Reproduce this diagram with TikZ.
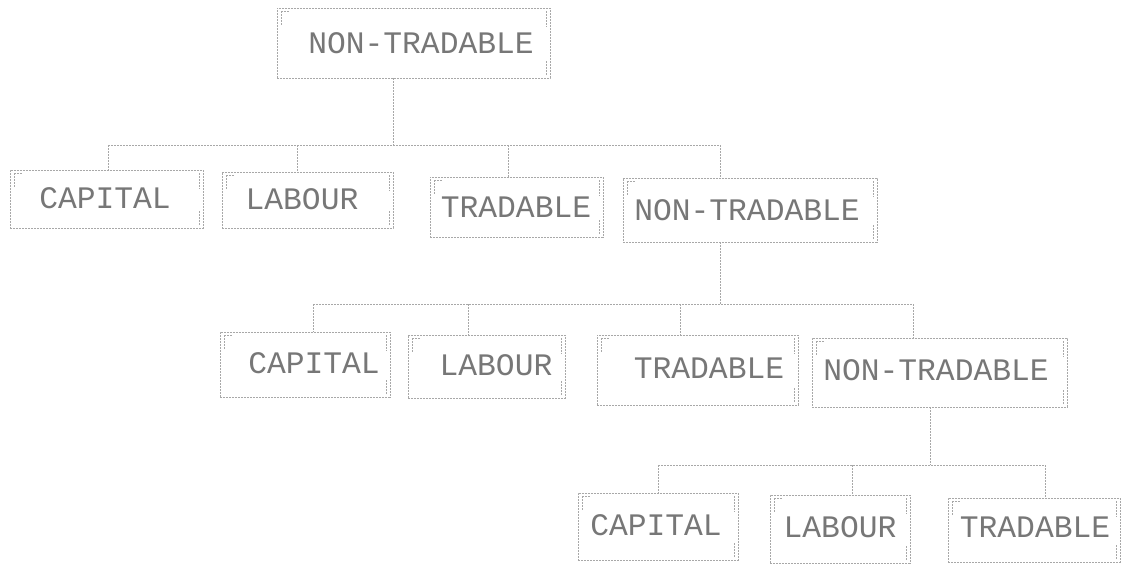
\documentclass[tikz,border=0pt]{standalone}
\usepackage{fontspec}
\setmonofont{Liberation Mono}
\definecolor{inkt}{HTML}{777777}
\definecolor{inkl}{HTML}{A8A8A8}
\begin{document}
\begin{tikzpicture}[x=1pt,y=-1pt,
  tbox/.style={draw=inkl, line width=0.8pt, dash pattern=on 2.2pt off 0.8pt, inner sep=0pt, outer sep=0pt},
  lbl/.style={text=inkt, inner sep=0pt, font=\ttfamily\fontsize{31.3}{36}\selectfont},
  conn/.style={draw=inkl, line width=0.8pt, dash pattern=on 2.2pt off 0.8pt},
  cornermk/.style={draw=inkl, line width=0.7pt, dash pattern=on 2pt off 1pt}]
\useasboundingbox (0,0) rectangle (1132,570);
\fill[white] (0,0) rectangle (1132,570);

% boxes
\node[tbox, minimum width=273pt, minimum height=70pt] (n0) at (413.5,43) {};
\node[tbox, minimum width=193pt, minimum height=58pt] (a1) at (106.5,199) {};
\node[tbox, minimum width=171pt, minimum height=56pt] (b1) at (307.5,200) {};
\node[tbox, minimum width=173pt, minimum height=60pt] (c1) at (516.5,207) {};
\node[tbox, minimum width=254pt, minimum height=64pt] (d1) at (750,210) {};
\node[tbox, minimum width=170pt, minimum height=65pt] (a2) at (305,364.5) {};
\node[tbox, minimum width=157pt, minimum height=63pt] (b2) at (486.5,366.5) {};
\node[tbox, minimum width=201pt, minimum height=70pt] (c2) at (697.5,370) {};
\node[tbox, minimum width=255pt, minimum height=69pt] (d2) at (939.5,372.5) {};
\node[tbox, minimum width=160pt, minimum height=67pt] (a3) at (658,526.5) {};
\node[tbox, minimum width=140pt, minimum height=68pt] (b3) at (840,529) {};
\node[tbox, minimum width=172pt, minimum height=64pt] (c3) at (1034,530) {};

% labels
\node[lbl] (n0t) at (421,43) {NON-TRADABLE};
\node[lbl] (a1t) at (105,198) {CAPITAL};
\node[lbl] (b1t) at (302,199) {LABOUR};
\node[lbl] (c1t) at (516,207) {TRADABLE};
\node[lbl] (d1t) at (747,210) {NON-TRADABLE};
\node[lbl] (a2t) at (314,363) {CAPITAL};
\node[lbl] (b2t) at (496,365) {LABOUR};
\node[lbl] (c2t) at (709,368) {TRADABLE};
\node[lbl] (d2t) at (936,370) {NON-TRADABLE};
\node[lbl] (a3t) at (656,525) {CAPITAL};
\node[lbl] (b3t) at (840,527) {LABOUR};
\node[lbl] (c3t) at (1035,527) {TRADABLE};

% corner marks (dot-matrix double strokes)
\foreach \b in {n0,a1,b1,c1,d1,a2,b2,c2,d2,a3,b3,c3} {
  \draw[cornermk] ([shift={(4pt,-3pt)}]\b.north west) -- ++(0pt,-14pt);
  \draw[cornermk] ([shift={(4pt,-3pt)}]\b.north west) -- ++(8pt,0pt);
  \draw[cornermk] ([shift={(-4pt,-3pt)}]\b.north east) -- ++(0pt,-16pt);
  \draw[cornermk] ([shift={(-4pt,3pt)}]\b.south east) -- ++(0pt,14pt);
}

% junction coordinates
\coordinate (k0) at (393,145);
\coordinate (ka1) at (108,145);
\coordinate (kb1) at (297,145);
\coordinate (kc1) at (508,145);
\coordinate (kd1) at (720,145);
\coordinate (k1) at (720,304);
\coordinate (ka2) at (313,304);
\coordinate (kb2) at (468,304);
\coordinate (kc2) at (680,304);
\coordinate (kd2) at (913,304);
\coordinate (k2) at (930,465);
\coordinate (ka3) at (658,465);
\coordinate (kb3) at (852,465);
\coordinate (kc3) at (1045,465);

% level 1 connectors
\draw[conn] (n0.south -| k0) -- (k0);
\draw[conn] (ka1) -- (kd1);
\draw[conn] (ka1) -- (ka1 |- a1.north);
\draw[conn] (kb1) -- (kb1 |- b1.north);
\draw[conn] (kc1) -- (kc1 |- c1.north);
\draw[conn] (kd1) -- (kd1 |- d1.north);

% level 2 connectors
\draw[conn] (d1.south -| k1) -- (k1);
\draw[conn] (ka2) -- (kd2);
\draw[conn] (ka2) -- (ka2 |- a2.north);
\draw[conn] (kb2) -- (kb2 |- b2.north);
\draw[conn] (kc2) -- (kc2 |- c2.north);
\draw[conn] (kd2) -- (kd2 |- d2.north);

% level 3 connectors
\draw[conn] (d2.south -| k2) -- (k2);
\draw[conn] (ka3) -- (kc3);
\draw[conn] (ka3) -- (ka3 |- a3.north);
\draw[conn] (kb3) -- (kb3 |- b3.north);
\draw[conn] (kc3) -- (kc3 |- c3.north);
\end{tikzpicture}
\end{document}
